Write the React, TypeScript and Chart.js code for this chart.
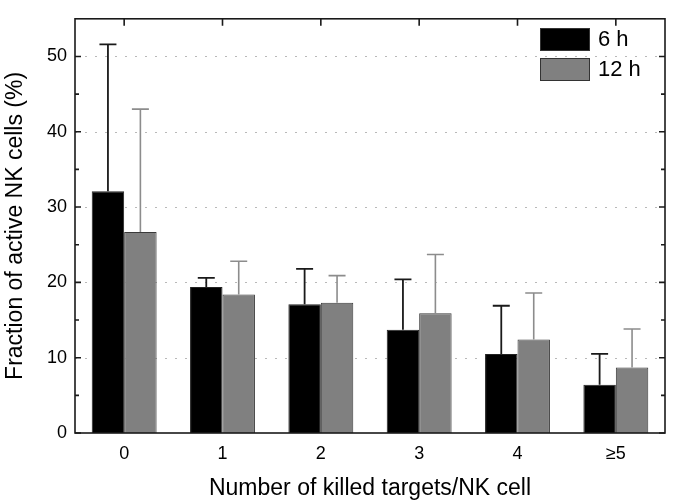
import { useEffect, useRef } from 'react';
import Chart from 'chart.js/auto';

// values
const categories = ['0', '1', '2', '3', '4', '≥5'];
const mean6h = [32.1, 19.4, 17.1, 13.7, 10.5, 6.4];
const sd6h = [19.5, 1.2, 4.7, 6.7, 6.4, 4.1];
const mean12h = [26.7, 18.4, 17.3, 15.9, 12.4, 8.7];
const sd12h = [16.3, 4.4, 3.6, 7.8, 6.2, 5.1];
const yTicks = [0, 10, 20, 30, 40, 50];
const yMinorTicks = [5, 15, 25, 35, 45];

const FONT = "'Liberation Sans', Arial, sans-serif";

const errorBars = {
  id: 'errorBars',
  afterDatasetsDraw(chart: any) {
    const ctx = chart.ctx;
    const y = chart.scales.y;
    chart.data.datasets.forEach((ds: any, i: number) => {
      const meta = chart.getDatasetMeta(i);
      ctx.save();
      ctx.strokeStyle = ds.errColor;
      ctx.lineWidth = ds.errWidth;
      meta.data.forEach((bar: any, j: number) => {
        const top = y.getPixelForValue(ds.data[j] + ds.sd[j]);
        const base = y.getPixelForValue(ds.data[j]);
        ctx.beginPath();
        ctx.moveTo(bar.x, base);
        ctx.lineTo(bar.x, top);
        ctx.moveTo(bar.x - 8.5, top);
        ctx.lineTo(bar.x + 8.5, top);
        ctx.stroke();
      });
      ctx.restore();
    });
  },
};

const frame = {
  id: 'frame',
  beforeDatasetsDraw(chart: any) {
    const { ctx, chartArea: a } = chart;
    const y = chart.scales.y;
    ctx.save();
    ctx.strokeStyle = '#b8b8b8';
    ctx.lineWidth = 1.2;
    ctx.setLineDash([2, 8]);
    yTicks.forEach((v) => {
      if (v === 0) return;
      const py = Math.round(y.getPixelForValue(v)) + 0.5;
      ctx.beginPath();
      ctx.moveTo(a.left, py);
      ctx.lineTo(a.right, py);
      ctx.stroke();
    });
    ctx.restore();
  },
  afterDraw(chart: any) {
    const { ctx, chartArea: a } = chart;
    const y = chart.scales.y;
    const x = chart.scales.x;
    ctx.save();
    ctx.strokeStyle = '#1a1a1a';
    ctx.lineWidth = 1.6;
    ctx.strokeRect(a.left, a.top, a.right - a.left, a.bottom - a.top);
    ctx.beginPath();
    yTicks.forEach((v) => {
      const py = y.getPixelForValue(v);
      ctx.moveTo(a.left, py);
      ctx.lineTo(a.left + 6, py);
      ctx.moveTo(a.right, py);
      ctx.lineTo(a.right - 6, py);
    });
    yMinorTicks.forEach((v) => {
      const py = y.getPixelForValue(v);
      ctx.moveTo(a.left, py);
      ctx.lineTo(a.left + 4, py);
      ctx.moveTo(a.right, py);
      ctx.lineTo(a.right - 4, py);
    });
    categories.forEach((_, i) => {
      const px = x.getPixelForValue(i);
      ctx.moveTo(px, a.top);
      ctx.lineTo(px, a.top + 7);
    });
    ctx.stroke();

    // legend in the upper right corner
    chart.data.datasets.forEach((ds: any, i: number) => {
      const bx = 540;
      const by = 28 + i * 30;
      ctx.fillStyle = ds.backgroundColor;
      ctx.fillRect(bx, by, 50, 23);
      ctx.lineWidth = 1;
      ctx.strokeStyle = '#333';
      ctx.strokeRect(bx + 0.5, by + 0.5, 49, 22);
      ctx.fillStyle = '#000';
      ctx.font = `22px ${FONT}`;
      ctx.textBaseline = 'middle';
      ctx.fillText(ds.label, 598, by + 12);
    });
    ctx.restore();
  },
};

const App = () => {
  const chartContainer = useRef<any>(null);

  useEffect(() => {
    if (!chartContainer.current) return;
    const chart = new Chart(chartContainer.current, {
      type: 'bar',
      data: {
        labels: categories,
        datasets: [
          {
            label: '6 h',
            data: mean6h,
            backgroundColor: '#000000',
            borderColor: '#222222',
            borderWidth: 1,
            sd: sd6h,
            errColor: '#1a1a1a',
            errWidth: 1.8,
          } as any,
          {
            label: '12 h',
            data: mean12h,
            backgroundColor: '#808080',
            borderColor: '#3a3a3a',
            borderWidth: 1,
            sd: sd12h,
            errColor: '#8c8c8c',
            errWidth: 1.6,
          } as any,
        ],
      },
      options: {
        responsive: false,
        animation: false,
        layout: { padding: { top: 5, right: 8, left: 0, bottom: 0 } },
        datasets: { bar: { categoryPercentage: 0.66, barPercentage: 1 } },
        plugins: { legend: { display: false }, tooltip: { enabled: false } },
        scales: {
          x: {
            grid: { display: false, drawTicks: false },
            border: { display: false },
            ticks: { color: '#000', font: { family: FONT, size: 18 }, padding: 10 },
            title: {
              display: true,
              text: 'Number of killed targets/NK cell',
              color: '#000',
              font: { family: FONT, size: 23 },
              padding: { top: 0, bottom: 1 },
            },
            afterFit: (s: any) => { s.height = 70; },
          },
          y: {
            min: 0,
            max: 55,
            grid: { display: false, drawTicks: false },
            border: { display: false },
            afterBuildTicks: (s: any) => { s.ticks = yTicks.map((v) => ({ value: v })); },
            ticks: { color: '#000', font: { family: FONT, size: 18 }, padding: 8 },
            title: {
              display: true,
              text: 'Fraction of active NK cells (%)',
              color: '#000',
              font: { family: FONT, size: 23 },
              padding: { top: 2, bottom: 0 },
            },
            afterFit: (s: any) => { s.width = 75; },
          },
        },
      },
      plugins: [frame, errorBars],
    });

    return () => {
      chart.destroy();
    };
  }, []);

  return (
    <div style={{ position: 'absolute', left: 0, top: 0, width: 673, height: 503, background: '#fff' }}>
      <canvas ref={chartContainer} width={673} height={503}></canvas>
    </div>
  );
};

export default App;
